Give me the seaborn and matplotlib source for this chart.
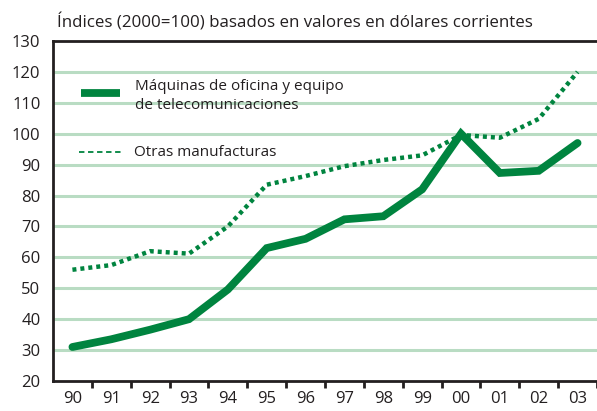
import matplotlib
matplotlib.use("Agg")
import matplotlib.pyplot as plt
import seaborn as sns
import pandas as pd
import numpy as np

years = ["90", "91", "92", "93", "94", "95", "96", "97", "98", "99", "00", "01", "02", "03"]
maquinas = [31, 33.5, 36.6, 40, 49.6, 63, 66, 72.3, 73.3, 82, 100, 87.3, 88, 97]
otras = [56, 57.5, 62, 61.2, 70, 83.5, 86.3, 89.5, 91.5, 93, 99.6, 98.7, 104.8, 120]
label_maq = "Máquinas de oficina y equipo\nde telecomunicaciones"
label_otras = "Otras manufacturas"
title = "Índices (2000=100) basados en valores en dólares corrientes"
yticks = [20, 30, 40, 50, 60, 70, 80, 90, 100, 110, 120, 130]

sns.set_theme(style="white")
plt.rcParams['font.family'] = ['Open Sans', 'DejaVu Sans']

green = "#00843f"
grid = "#b9dcc3"
txt = "#231f20"

df = pd.DataFrame({"x": np.arange(len(years)), "maq": maquinas, "otras": otras})

fig = plt.figure(figsize=(5.97, 4.11), dpi=100)
ax = fig.add_axes([53/597, 30/411, 1 - 53/597, 340/411])

for v in yticks[1:-1]:
    ax.axhline(v, color=grid, lw=2.2, zorder=0)

sns.lineplot(data=df, x="x", y="otras", ax=ax, color=green, lw=3.2,
             linestyle=(0, (0.9, 0.9)), zorder=3)
sns.lineplot(data=df, x="x", y="maq", ax=ax, color=green, lw=5.6,
             solid_capstyle="round", solid_joinstyle="miter", zorder=4)

ax.set_xlim(-0.5, (597 - 53) / 39.5 - 0.5)
ax.set_ylim(20, 130)
ax.set_xticks(np.arange(len(years)))
ax.set_xticklabels(years)
ax.set_xticks(np.arange(len(years)) + 0.5, minor=True)
ax.set_yticks(yticks)
ax.set_xlabel("")
ax.set_ylabel("")
ax.tick_params(axis="x", which="major", length=0, pad=7, labelsize=12, labelcolor=txt)
ax.tick_params(axis="x", which="minor", length=5, width=2, color=txt, direction="out", bottom=True)
ax.tick_params(axis="y", length=0, pad=9, labelsize=12, labelcolor=txt)

for s in ["left", "bottom", "top"]:
    ax.spines[s].set_color(txt)
    ax.spines[s].set_linewidth(2)
ax.spines["right"].set_visible(False)

fig.text(57/597, 1 - 22/411, title, fontsize=12.2, color=txt, va="center", ha="left")

# legend
ax.plot([81, 120], [411 - 93, 411 - 93], transform=None, color=green, lw=5.6,
        solid_capstyle="butt", clip_on=False)
fig.text(135/597, 1 - 96/411, label_maq, fontsize=11, color=txt, va="center", ha="left",
         linespacing=1.45)
ax.plot([79, 122], [411 - 152, 411 - 152], transform=None, color=green, lw=1.3,
        linestyle=(0, (3, 2)), clip_on=False)
fig.text(134/597, 1 - 152/411, label_otras, fontsize=11, color=txt, va="center", ha="left")

fig.savefig("out.png", dpi=100)
